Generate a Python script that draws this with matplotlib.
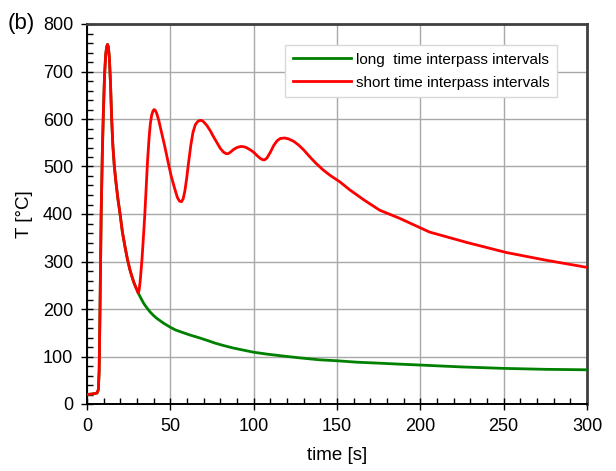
import matplotlib
matplotlib.use("Agg")
import matplotlib.pyplot as plt
from matplotlib.ticker import MultipleLocator

plt.rcParams['font.family'] = ['Liberation Sans', 'DejaVu Sans']

# shared early part (heating + first cooling)
t_common = [0, 3, 6, 6.8, 7.3, 7.8, 8.5, 9.2, 9.8, 10.5, 11.2, 11.8, 12.3, 12.8, 13.4, 14.1, 14.8,
            15.5, 16.3, 17.2, 18.5, 19.8, 21.2, 22.8, 24.3, 25.8, 27, 28, 29, 30, 30.7]
T_common = [20, 21, 23, 30, 70, 200, 400, 530, 610, 690, 735, 752, 757, 752, 730, 675, 600,
            545, 505, 472, 433, 401, 363, 331, 304, 282, 268, 257, 248, 240, 234]

# long time interpass intervals (green)
t_long = t_common + [32, 34, 36, 37.8, 40, 42, 46, 49.8, 53, 57, 62, 67.7, 72, 77, 82, 87.6, 93,
                     100, 108, 117.6, 128, 139.7, 150, 162, 175, 187, 200, 225, 250, 275, 300]
T_long = T_common + [225, 212, 202, 194, 186, 180, 170, 162, 156, 151, 145, 139, 134, 128, 123, 118, 114,
                     109, 105, 101, 97, 93, 91, 88, 86, 84, 82, 78, 75, 73, 72]

# short time interpass intervals (red)
t_short = t_common + [31.3, 32, 33, 34, 34.7, 35.5, 36.3, 37.2, 38, 38.8, 39.6, 40.3, 41, 41.8, 43, 44.5,
                      46.5, 48.5, 50.5, 52.5, 54.2, 55.5, 56.7, 57.7, 58.7, 59.8, 61, 62.3, 63.6, 65,
                      66.5, 67.8, 68.7, 70, 72, 74, 76, 78, 80, 82, 83.5, 84.6, 86, 88, 90, 92,
                      93.6, 95.5, 98, 100, 102, 104, 105.5, 106.6, 108, 110, 112, 114, 116, 118.6,
                      121, 124, 127, 130, 133, 137, 141.6, 146, 151.6, 157.6, 166, 175.6, 187.5,
                      205.5, 228, 251.5, 275, 301]
T_short = T_common + [240, 262, 305, 360, 400, 455, 510, 558, 590, 608, 617, 620, 618, 612, 598, 575,
                      545, 512, 480, 455, 435, 427, 426, 432, 448, 475, 510, 545, 572, 588,
                      595, 597, 597, 594, 586, 575, 562, 550, 538, 530, 527, 527, 530, 536, 540, 542,
                      542, 540, 535, 530, 523, 517, 514, 514, 518, 530, 544, 554, 559, 560,
                      558, 553, 545, 535, 523, 508, 493, 481, 468, 451, 430, 408, 391,
                      362, 340, 319, 303, 287]

fig = plt.figure(figsize=(6.16, 4.71), dpi=100)
ax = fig.add_axes([87/616, 1-404/471, 500/616, 380/471])

ax.plot(t_long, T_long, color='#008000', lw=2.0, label='long  time interpass intervals', zorder=3)
ax.plot(t_short, T_short, color='#ff0000', lw=2.0, label='short time interpass intervals', zorder=4)

ax.set_xlim(0, 300)
ax.set_ylim(0, 800)
ax.xaxis.set_major_locator(MultipleLocator(50))
ax.xaxis.set_minor_locator(MultipleLocator(10))
ax.yaxis.set_major_locator(MultipleLocator(100))
ax.yaxis.set_minor_locator(MultipleLocator(20))
ax.tick_params(which='major', direction='inout', length=8, width=1.0, labelsize=13, pad=6, color='black')
ax.tick_params(which='minor', direction='in', length=4, width=1.0, color='black')
ax.grid(True, which='major', color='#a8a8a8', lw=1.0)
ax.set_axisbelow(True)

for s in ['left', 'bottom']:
    ax.spines[s].set_color('black')
    ax.spines[s].set_linewidth(1.4)
for s in ['top', 'right']:
    ax.spines[s].set_color('#404040')
    ax.spines[s].set_linewidth(2.0)

ax.set_xlabel('time [s]', fontsize=13.5, labelpad=9)
ax.set_ylabel('T [°C]', fontsize=13.5, labelpad=7)

fig.text(8/616, 1-24/471, '(b)', fontsize=16, va='center', ha='left')

leg = ax.legend(loc='upper right', bbox_to_anchor=(557/616, 1-45/471),
                bbox_transform=fig.transFigure, fontsize=11, frameon=True, fancybox=False,
                handlelength=3.8, handletextpad=0.3, borderpad=0.5, labelspacing=0.6,
                borderaxespad=0)
leg.get_frame().set_edgecolor('#d8d8d8')
leg.get_frame().set_linewidth(1.0)
leg.get_frame().set_alpha(1.0)

fig.savefig('out.png', dpi=100)
